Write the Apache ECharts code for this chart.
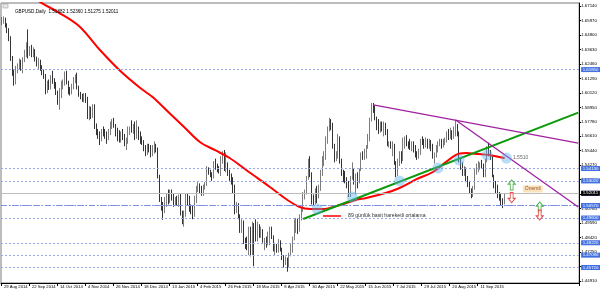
<!DOCTYPE html>
<html><head><meta charset="utf-8">
<script src="https://cdn.jsdelivr.net/npm/echarts@6/dist/echarts.min.js"></script>
<style>html,body{margin:0;padding:0;background:#fff}#c{width:600px;height:292px}</style>
</head><body><div id="c"></div>
<script>
const dateLabels = ["29 Aug 2014","22 Sep 2014","14 Oct 2014","4 Nov 2014","26 Nov 2014","18 Dec 2014","13 Jan 2015","4 Feb 2015","26 Feb 2015","18 Mar 2015","8 Apr 2015","30 Apr 2015","22 May 2015","15 Jun 2015","7 Jul 2015","29 Jul 2015","20 Aug 2015","11 Sep 2015"];
const labelEvery = 16;
const totalSlots = 330;

const opens = [
1.6575,1.6590,1.6605,1.6560,1.6520,1.6455,1.6300,1.6180,1.6120,1.6190,
1.6225,1.6250,1.6230,1.6280,1.6330,1.6390,1.6340,1.6370,1.6330,1.6350,
1.6290,1.6250,1.6270,1.6210,1.6170,1.6140,1.6030,1.6090,1.6060,1.6130,
1.6100,1.6080,1.6010,1.5940,1.5990,1.6080,1.6090,1.6150,1.6100,1.6030,
1.6020,1.6060,1.6120,1.6140,1.6060,1.6000,1.5990,1.5950,1.5990,1.5950,
1.5840,1.5880,1.5820,1.5900,1.5750,1.5700,1.5650,1.5630,1.5700,1.5680,
1.5660,1.5650,1.5700,1.5750,1.5770,1.5740,1.5690,1.5660,1.5640,1.5680,
1.5650,1.5600,1.5630,1.5700,1.5730,1.5710,1.5740,1.5650,1.5700,1.5660,
1.5630,1.5600,1.5560,1.5520,1.5580,1.5560,1.5510,1.5560,1.5590,1.5550,
1.5330,1.5160,1.5080,1.5050,1.5130,1.5170,1.5140,1.5190,1.5160,1.5120,
1.5150,1.5110,1.5170,1.5040,1.4990,1.5020,1.5160,1.5150,1.5070,1.5050,
1.5020,1.5150,1.5230,1.5260,1.5220,1.5200,1.5250,1.5280,1.5390,1.5370,
1.5340,1.5330,1.5430,1.5410,1.5380,1.5370,1.5440,1.5490,1.5420,1.5440,
1.5370,1.5350,1.5290,1.5230,1.5060,1.5110,1.5010,1.4900,1.4960,1.4820,
1.4780,1.4770,1.4900,1.4720,1.4920,1.4850,1.4830,1.4910,1.4870,1.4900,
1.4810,1.4830,1.4790,1.4870,1.4910,1.4840,1.4740,1.4780,1.4740,1.4800,
1.4750,1.4680,1.4640,1.4660,1.4620,1.4700,1.4780,1.4840,1.4900,1.4970,
1.4920,1.5000,1.5060,1.5180,1.5200,1.5320,1.5460,1.5350,1.5150,1.5120,
1.5180,1.5170,1.5230,1.5350,1.5460,1.5500,1.5650,1.5720,1.5760,1.5740,
1.5590,1.5480,1.5510,1.5650,1.5460,1.5370,1.5340,1.5290,1.5280,1.5200,
1.5330,1.5370,1.5310,1.5350,1.5300,1.5390,1.5510,1.5490,1.5540,1.5580,
1.5640,1.5800,1.5890,1.5880,1.5810,1.5760,1.5730,1.5750,1.5740,1.5750,
1.5710,1.5600,1.5600,1.5590,1.5590,1.5440,1.5360,1.5440,1.5510,1.5480,
1.5620,1.5640,1.5600,1.5580,1.5570,1.5600,1.5540,1.5520,1.5500,1.5530,
1.5620,1.5610,1.5590,1.5630,1.5600,1.5620,1.5580,1.5490,1.5500,1.5560,
1.5600,1.5620,1.5580,1.5610,1.5630,1.5680,1.5660,1.5700,1.5650,1.5700,
1.5730,1.5690,1.5480,1.5420,1.5370,1.5390,1.5310,1.5290,1.5220,1.5180,
1.5240,1.5380,1.5400,1.5430,1.5430,1.5420,1.5360,1.5460,1.5560,1.5520,
1.5490,1.5340,1.5250,1.5230,1.5190,1.5180,1.5140,1.5120];

const closes = [
1.6590,1.6605,1.6560,1.6520,1.6455,1.6300,1.6180,1.6120,1.6190,1.6225,
1.6250,1.6230,1.6280,1.6330,1.6390,1.6340,1.6370,1.6330,1.6350,1.6290,
1.6250,1.6270,1.6210,1.6170,1.6140,1.6030,1.6090,1.6060,1.6130,1.6100,
1.6080,1.6010,1.5940,1.5990,1.6080,1.6090,1.6150,1.6100,1.6030,1.6020,
1.6060,1.6120,1.6140,1.6060,1.6000,1.5990,1.5950,1.5990,1.5950,1.5840,
1.5880,1.5820,1.5900,1.5750,1.5700,1.5650,1.5630,1.5700,1.5680,1.5660,
1.5650,1.5700,1.5750,1.5770,1.5740,1.5690,1.5660,1.5640,1.5680,1.5650,
1.5600,1.5630,1.5700,1.5730,1.5710,1.5740,1.5650,1.5700,1.5660,1.5630,
1.5600,1.5560,1.5520,1.5580,1.5560,1.5510,1.5560,1.5590,1.5550,1.5330,
1.5160,1.5080,1.5050,1.5130,1.5170,1.5140,1.5190,1.5160,1.5120,1.5150,
1.5110,1.5170,1.5040,1.4990,1.5020,1.5160,1.5150,1.5070,1.5050,1.5020,
1.5150,1.5230,1.5260,1.5220,1.5200,1.5250,1.5280,1.5390,1.5370,1.5340,
1.5330,1.5430,1.5410,1.5380,1.5370,1.5440,1.5490,1.5420,1.5440,1.5370,
1.5350,1.5290,1.5230,1.5060,1.5110,1.5010,1.4900,1.4960,1.4820,1.4780,
1.4770,1.4900,1.4720,1.4920,1.4850,1.4830,1.4910,1.4870,1.4900,1.4810,
1.4830,1.4790,1.4870,1.4910,1.4840,1.4740,1.4780,1.4740,1.4800,1.4750,
1.4680,1.4640,1.4660,1.4620,1.4700,1.4780,1.4840,1.4900,1.4970,1.4920,
1.5000,1.5060,1.5180,1.5200,1.5320,1.5460,1.5350,1.5150,1.5120,1.5180,
1.5170,1.5230,1.5350,1.5460,1.5500,1.5650,1.5720,1.5760,1.5740,1.5590,
1.5480,1.5510,1.5650,1.5460,1.5370,1.5340,1.5290,1.5280,1.5200,1.5330,
1.5370,1.5310,1.5350,1.5300,1.5390,1.5510,1.5490,1.5540,1.5580,1.5640,
1.5800,1.5890,1.5880,1.5810,1.5760,1.5730,1.5750,1.5740,1.5750,1.5710,
1.5600,1.5600,1.5590,1.5590,1.5440,1.5360,1.5440,1.5510,1.5480,1.5620,
1.5640,1.5600,1.5580,1.5570,1.5600,1.5540,1.5520,1.5500,1.5530,1.5620,
1.5610,1.5590,1.5630,1.5600,1.5620,1.5580,1.5490,1.5500,1.5560,1.5600,
1.5620,1.5580,1.5610,1.5630,1.5680,1.5660,1.5700,1.5650,1.5700,1.5730,
1.5690,1.5480,1.5420,1.5370,1.5390,1.5310,1.5290,1.5220,1.5180,1.5240,
1.5380,1.5400,1.5430,1.5430,1.5420,1.5360,1.5460,1.5560,1.5520,1.5490,
1.5340,1.5250,1.5230,1.5190,1.5180,1.5140,1.5120,1.5180];

const highs = [
1.6625,1.6630,1.6620,1.6575,1.6535,1.6470,1.6310,1.6200,1.6230,1.6250,
1.6290,1.6280,1.6300,1.6360,1.6420,1.6525,1.6390,1.6400,1.6380,1.6365,
1.6305,1.6295,1.6280,1.6235,1.6200,1.6165,1.6110,1.6120,1.6155,1.6190,
1.6130,1.6100,1.6030,1.6050,1.6110,1.6120,1.6185,1.6190,1.6110,1.6060,
1.6085,1.6140,1.6160,1.6175,1.6070,1.6020,1.6005,1.6010,1.6010,1.5980,
1.5905,1.5900,1.5920,1.5920,1.5765,1.5720,1.5700,1.5720,1.5740,1.5720,
1.5700,1.5720,1.5780,1.5800,1.5810,1.5760,1.5730,1.5710,1.5700,1.5720,
1.5680,1.5650,1.5740,1.5740,1.5790,1.5760,1.5780,1.5790,1.5740,1.5700,
1.5660,1.5630,1.5590,1.5600,1.5600,1.5590,1.5590,1.5620,1.5600,1.5570,
1.5350,1.5170,1.5130,1.5170,1.5200,1.5230,1.5230,1.5230,1.5200,1.5170,
1.5180,1.5190,1.5200,1.5060,1.5060,1.5200,1.5200,1.5180,1.5110,1.5100,
1.5180,1.5260,1.5290,1.5280,1.5260,1.5270,1.5290,1.5420,1.5410,1.5390,
1.5370,1.5460,1.5480,1.5440,1.5420,1.5500,1.5540,1.5550,1.5530,1.5450,
1.5390,1.5360,1.5330,1.5270,1.5130,1.5120,1.5030,1.4990,1.4980,1.4840,
1.4850,1.4930,1.4930,1.4970,1.4960,1.4990,1.4970,1.4950,1.4930,1.4910,
1.4840,1.4850,1.4890,1.4930,1.4930,1.4860,1.4800,1.4790,1.4830,1.4820,
1.4760,1.4700,1.4690,1.4680,1.4720,1.4790,1.4850,1.4990,1.5000,1.5000,
1.5030,1.5080,1.5210,1.5230,1.5340,1.5480,1.5500,1.5370,1.5190,1.5240,
1.5260,1.5270,1.5390,1.5500,1.5540,1.5660,1.5740,1.5810,1.5800,1.5770,
1.5600,1.5540,1.5680,1.5660,1.5480,1.5390,1.5380,1.5330,1.5300,1.5340,
1.5450,1.5400,1.5360,1.5370,1.5400,1.5530,1.5540,1.5560,1.5590,1.5680,
1.5810,1.5930,1.5930,1.5910,1.5820,1.5800,1.5780,1.5780,1.5780,1.5770,
1.5720,1.5620,1.5620,1.5620,1.5600,1.5460,1.5480,1.5540,1.5540,1.5650,
1.5660,1.5670,1.5620,1.5640,1.5620,1.5620,1.5590,1.5540,1.5560,1.5640,
1.5660,1.5640,1.5650,1.5640,1.5640,1.5630,1.5600,1.5530,1.5590,1.5620,
1.5640,1.5640,1.5640,1.5650,1.5700,1.5720,1.5730,1.5710,1.5740,1.5795,
1.5760,1.5700,1.5490,1.5450,1.5420,1.5410,1.5340,1.5300,1.5240,1.5260,
1.5400,1.5440,1.5460,1.5450,1.5470,1.5440,1.5480,1.5580,1.5610,1.5550,
1.5500,1.5350,1.5300,1.5270,1.5210,1.5200,1.5160,1.5200];

const lows = [
1.6560,1.6570,1.6540,1.6495,1.6430,1.6270,1.6150,1.6070,1.6080,1.6170,
1.6200,1.6190,1.6170,1.6260,1.6300,1.6290,1.6310,1.6300,1.6300,1.6265,
1.6225,1.6205,1.6190,1.6155,1.6125,1.6000,1.6010,1.6035,1.6040,1.6085,
1.6045,1.5995,1.5915,1.5875,1.5970,1.6040,1.6070,1.6080,1.6000,1.5990,
1.6000,1.6040,1.6090,1.6040,1.5980,1.5960,1.5940,1.5935,1.5930,1.5800,
1.5790,1.5800,1.5810,1.5720,1.5670,1.5640,1.5590,1.5620,1.5660,1.5640,
1.5600,1.5630,1.5670,1.5720,1.5730,1.5660,1.5620,1.5610,1.5610,1.5630,
1.5580,1.5550,1.5600,1.5670,1.5690,1.5680,1.5630,1.5640,1.5630,1.5600,
1.5590,1.5540,1.5500,1.5510,1.5530,1.5490,1.5500,1.5520,1.5530,1.5320,
1.5130,1.5060,1.4985,1.5040,1.5090,1.5110,1.5120,1.5140,1.5090,1.5100,
1.5100,1.5090,1.5020,1.4950,1.4930,1.5010,1.5100,1.5050,1.5030,1.4990,
1.5010,1.5120,1.5210,1.5200,1.5180,1.5180,1.5230,1.5260,1.5350,1.5330,
1.5300,1.5320,1.5390,1.5370,1.5360,1.5340,1.5440,1.5380,1.5370,1.5340,
1.5300,1.5270,1.5200,1.5030,1.5040,1.4990,1.4880,1.4880,1.4790,1.4750,
1.4740,1.4700,1.4690,1.4700,1.4610,1.4810,1.4810,1.4840,1.4840,1.4800,
1.4740,1.4760,1.4780,1.4780,1.4830,1.4730,1.4700,1.4720,1.4720,1.4730,
1.4660,1.4600,1.4620,1.4566,1.4600,1.4690,1.4720,1.4820,1.4880,1.4870,
1.4890,1.4980,1.5050,1.5150,1.5190,1.5310,1.5330,1.5110,1.5100,1.5110,
1.5120,1.5160,1.5220,1.5340,1.5420,1.5470,1.5600,1.5700,1.5710,1.5560,
1.5450,1.5460,1.5480,1.5440,1.5340,1.5290,1.5280,1.5240,1.5170,1.5170,
1.5310,1.5270,1.5190,1.5240,1.5280,1.5380,1.5470,1.5470,1.5480,1.5560,
1.5620,1.5780,1.5850,1.5790,1.5710,1.5680,1.5690,1.5700,1.5660,1.5670,
1.5580,1.5570,1.5560,1.5500,1.5430,1.5330,1.5340,1.5420,1.5440,1.5460,
1.5560,1.5580,1.5560,1.5550,1.5540,1.5530,1.5490,1.5470,1.5480,1.5510,
1.5590,1.5560,1.5570,1.5560,1.5560,1.5540,1.5480,1.5440,1.5490,1.5530,
1.5580,1.5560,1.5570,1.5590,1.5610,1.5630,1.5640,1.5630,1.5640,1.5660,
1.5660,1.5450,1.5390,1.5340,1.5340,1.5290,1.5250,1.5200,1.5160,1.5170,
1.5230,1.5350,1.5370,1.5390,1.5400,1.5330,1.5330,1.5450,1.5500,1.5470,
1.5330,1.5240,1.5200,1.5160,1.5140,1.5100,1.5080,1.5110];

// 89-day simple moving average at these bars
const maBars = [14,22,32,44,56,67,79,86,95,104,113,122,130,141,153,163,170,176,183,193,202,208,219,227,237,246,259,265,272,278,284,287];
const maVals = [1.6840,1.6745,1.6665,1.6552,1.6358,1.6197,1.6051,1.5978,1.5857,1.5736,1.5615,1.5546,1.5485,1.5372,1.5251,1.5146,1.5089,1.5073,1.5073,1.5105,1.5146,1.5162,1.5202,1.5243,1.5316,1.5372,1.5509,1.5525,1.5517,1.5509,1.5493,1.5485];

const yTickValues = [1.67140,1.65970,1.64800,1.63630,1.62460,1.61290,1.60120,1.58950,1.57780,1.56610,1.55440,1.54270,1.53100,1.51930,1.50760,1.49590,1.48420,1.47250,1.46080,1.44910];
const dottedLevels = [1.61850,1.54130,1.53020,1.51380,1.49600,1.48220,1.47090,1.45720];
const dashDotLevels = [1.52270,1.50570];
const lastPrice = 1.5178;
const lastPriceText = "1.52011";

const greenTrend = [[172,1.4992],[329,1.5852]];
const purpleTrendA = [[212,1.5914],[329,1.5606]];
const purpleTrendB = [[259,1.5792],[329,1.5089]];
const touchPoints = [[180,1.5073],[200,1.5170],[227,1.5300],[249,1.5405],[261,1.5469],[277,1.5509],[288,1.5485]];
const touchLabel = "1.5510";
const upArrows = [[291,1.5267],[307,1.5089]];
const downArrows = [[291,1.5165],[307,1.5024]];
const noteLabel = {bar:303, value:1.5235, text:"Önemli"};
const legendText = "89 günlük basit hareketli ortalama";
const titleText = "GBPUSD,Daily  1.51882 1.52360 1.51275 1.52011";

const cats = [];
for (let i = 0; i < totalSlots; i++) cats.push(String(i));
const candleData = opens.map((o, i) => [o, closes[i], lows[i], highs[i]]);
const maData = maBars.map((b, i) => [b, maVals[i]]);

const FONT = 'Liberation Sans';
const lblBlue = '#3f6fe0';
const lvlColor = '#9aa6ec';

function levelLine(v, type, color, bg, text) {
  return {
    yAxis: v,
    lineStyle: {type: type, color: color, width: 1},
    label: {show: true, position: 'end', distance: 2, formatter: text || v.toFixed(5),
      backgroundColor: bg, color: '#fff', fontSize: 4.4, fontFamily: FONT, padding: [0.5, 1.5, 0.5, 1.5]}
  };
}
const markData = [];
dottedLevels.forEach(v => markData.push(levelLine(v, [2, 2], lvlColor, lblBlue)));
dashDotLevels.forEach(v => markData.push(levelLine(v, [6, 2, 1, 2], '#7f90e0', lblBlue)));
markData.push(levelLine(lastPrice, 'solid', '#bdbdbd', '#000', lastPriceText));

const arrowUp = 'path://M5,0 L10,5 L7,5 L7,12 L3,12 L3,5 L0,5 Z';
const arrowDown = 'path://M3,0 L7,0 L7,7 L10,7 L5,12 L0,7 L3,7 Z';
const showTick = (i) => i % labelEvery === 0 && i / labelEvery < dateLabels.length;

const chart = echarts.init(document.getElementById('c'), null, {renderer: 'canvas'});
chart.setOption({
  animation: false,
  backgroundColor: '#ffffff',
  title: {text: titleText, left: 10, top: 4, textStyle: {fontSize: 4.6, fontWeight: 'normal', color: '#000', fontFamily: FONT}},
  grid: {left: 1, right: 20, top: 3, bottom: 9, show: true, borderColor: '#7a7a7a', borderWidth: 1, backgroundColor: '#fff'},
  xAxis: {
    type: 'category', data: cats, boundaryGap: true,
    axisLine: {show: true, lineStyle: {color: '#000', width: 1}},
    axisTick: {show: true, length: 3, interval: showTick, lineStyle: {color: '#000'}},
    axisLabel: {show: true, interval: showTick,
      formatter: (v) => { const n = Number(v); return n % labelEvery === 0 ? (dateLabels[n / labelEvery] || '') : ''; },
      align: 'left', margin: 2, fontSize: 4.2, color: '#000', fontFamily: FONT, padding: [0, 0, 0, 2]},
    splitLine: {show: false}
  },
  yAxis: {
    type: 'value', position: 'right', min: 1.44747, max: 1.67383,
    axisLine: {show: true, lineStyle: {color: '#000', width: 1}},
    axisTick: {show: true, length: 2, customValues: yTickValues, lineStyle: {color: '#000'}},
    axisLabel: {show: true, customValues: yTickValues, formatter: (v) => v.toFixed(5), margin: 2, fontSize: 4.4, color: '#000', fontFamily: FONT},
    splitLine: {show: false}
  },
  series: [
    {
      type: 'candlestick', data: candleData, barWidth: 1.1,
      itemStyle: {color: '#d0d0d0', color0: '#000000', borderColor: '#5a5a5a', borderColor0: '#000000', borderWidth: 0.8},
      markLine: {symbol: 'none', silent: true, animation: false, data: markData}, z: 3
    },
    {type: 'line', data: maData, smooth: 0.35, showSymbol: false, lineStyle: {color: '#ff0000', width: 2}, z: 4, clip: true},
    {type: 'line', data: greenTrend, showSymbol: false, lineStyle: {color: '#0a9a0a', width: 2}, z: 5, clip: true},
    {type: 'line', data: purpleTrendA, showSymbol: false, lineStyle: {color: '#a020a0', width: 1.3}, z: 5, clip: true},
    {type: 'line', data: purpleTrendB, showSymbol: false, lineStyle: {color: '#a020a0', width: 1.3}, z: 5, clip: true},
    {type: 'scatter', data: touchPoints, symbolSize: 11, itemStyle: {color: 'rgba(90,175,235,0.55)'}, z: 6,
      label: {show: true, formatter: (p) => p.dataIndex === touchPoints.length - 1 ? touchLabel : '', position: 'right', distance: 1, fontSize: 5, color: '#404040', fontFamily: FONT}},
    {type: 'scatter', data: upArrows, symbol: arrowUp, symbolSize: [7, 10], itemStyle: {color: '#ffffff', borderColor: '#20a020', borderWidth: 1}, z: 7},
    {type: 'scatter', data: downArrows, symbol: arrowDown, symbolSize: [7, 10], itemStyle: {color: '#ffffff', borderColor: '#e02020', borderWidth: 1}, z: 7},
    {type: 'scatter', data: [[noteLabel.bar, noteLabel.value]], symbolSize: 0, z: 8,
      label: {show: true, formatter: noteLabel.text, position: 'inside', backgroundColor: '#f7dcae', color: '#803000', fontSize: 5, fontFamily: FONT, padding: [1, 2, 1, 2]}}
  ],
  graphic: [
    {type: 'line', shape: {x1: 323, y1: 216, x2: 341, y2: 216}, style: {stroke: '#ff0000', lineWidth: 1.5}},
    {type: 'text', x: 348, y: 213, style: {text: legendText, fontSize: 5.2, fill: '#303030', fontFamily: FONT}},
    {type: 'rect', shape: {x: 3, y: 4, width: 5, height: 4}, style: {fill: '#e8e8e8', stroke: '#909090', lineWidth: 0.5}}
  ]
});
</script></body></html>
